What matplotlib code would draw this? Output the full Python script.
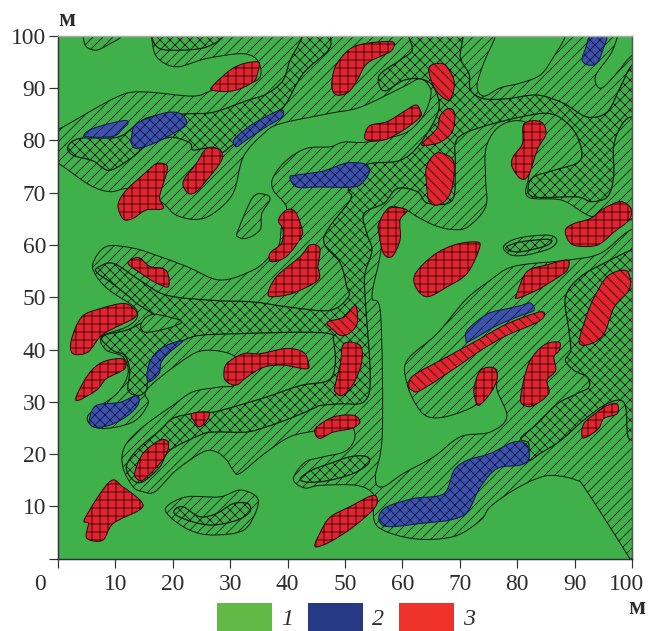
import matplotlib
matplotlib.use('Agg')
import matplotlib.pyplot as plt
import numpy as np
from matplotlib.path import Path
from matplotlib.patches import PathPatch, Patch
from matplotlib.transforms import ScaledTranslation

W, H, DPI = 648, 631, 240
px = 72 / DPI
plt.rcParams['hatch.linewidth'] = 0.85 * px
plt.rcParams['font.family'] = ['Liberation Serif', 'DejaVu Serif']

GREEN = '#40B04A'; BLUE = '#3D52A8'; RED = '#E3242F'
LEG_COL = ['#62B946', '#263A84', '#EE3229']
LEG_LAB = ['1', '2', '3']
TICKS = [0, 10, 20, 30, 40, 50, 60, 70, 80, 90, 100]

hatched_master = [(0,82.1),(10.2,88.3),(14.8,89.3),(23.5,88.5),(27,89.6),(34.6,91.5),(34.9,95),(32.3,96.6),(25.9,95.7),(20.6,94.1),(17.2,96),(16.3,99.8),(16,103),(60,103),(105,105),(105,80),(105,20),(105,-6),(101,-3),(99.6,0),(92,13.1),(90.3,15),(86.3,15.9),(83.4,15.3),(79.4,13.1),(75.3,9.9),(73.6,7.3),(68.9,4.2),(61.9,3.8),(55.8,6),(54.9,9.9),(54.9,12.4),(52,14),(45.7,14),(43,13.5),(41,15.2),(43,18.4),(46,19.4),(50,20.5),(51.7,23),(51,25.5),(48,25.5),(45,24.5),(40.4,23.3),(36,20.1),(31.7,16.3),(30.5,16.9),(29.4,18.8),(27.6,20.4),(25.3,20.4),(20.6,16.9),(16.9,12.8),(14.8,12.8),(13.1,13.7),(11.3,17.5),(11.6,21.4),(14.8,25.2),(20,29.3),(23.5,31.9),(28,32.8),(31,33.5),(31,38.5),(25.3,39.8),(20.6,37),(15.4,32.2),(15.7,29.6),(13,26.1),(7.2,24.9),(5.2,27.3),(10.2,31.5),(12.2,35.4),(11.3,38.6),(8.4,39.9),(7.6,42.4),(11.9,44.3),(13.7,45.9),(13.7,47.5),(12.5,48.8),(9,51.3),(6.7,54),(6.1,56.5),(8.4,59.7),(13.1,59.4),(17.7,57.8),(22.4,55.9),(28.2,53.3),(34,55.2),(36.9,57.8),(38.5,60),(39,64),(39.8,67.3),(37.5,70.5),(37.5,73),(39.8,76.2),(43.3,78.5),(47.4,78.8),(49.8,79.7),(53.8,79.7),(60.2,81.3),(63.1,83.9),(64.6,87.1),(64.9,89.9),(63.1,91.8),(60.2,90.3),(52.7,86.4),(47.4,85.2),(38.7,83.2),(35.8,81.3),(32.3,76.9),(30.5,69.9),(27,66),(24.1,64.9),(20.6,65.7),(18.3,68),(15,70),(11.9,70.8),(9,70.2),(5.5,71.5),(0,75.7),(-5,79),(-5,80)]

green_pockets = [
 [(76.2,103),(76.2,100),(74.2,94.9),(73,90.4),(74.2,88.5),(77.1,90.1),(80.6,91),(84.1,92.6),(86.4,96.1),(88.4,100),(88.4,103)],
 [(98,103),(97.5,100),(96.3,96.6),(93.7,92.5),(94,90.3),(95.1,90.3),(97.5,93.1),(100,96.3),(104,99),(104,103)],
 [(74.5,78.2),(74.5,72.4),(74.5,67.3),(71.3,63.4),(68.4,63),(65.5,63.8),(62.6,65.4),(60.5,66.7),(57.3,66.7),(56.1,57.8),(54.7,50.1),(56.2,46.8),(56.5,23.9),(55.3,15.6),(56.5,13.7),(60.2,16.3),(65.5,19.5),(70.1,23.3),(75.3,24.2),(78.2,27.1),(76.5,32.2),(76.2,36.3),(72.7,32.8),(73,29.6),(67.8,27.2),(64.3,27.2),(62.3,29.6),(60.8,33.5),(60.8,37.9),(66,43),(71,49.5),(75,53),(79.4,55.9),(88.7,57.1),(94.5,58.4),(99.8,62.9),(104,63),(104,65),(99.8,64.8),(93.5,65.4),(91.8,66),(87.7,68.6),(81.9,69.2),(82,73),(83,78),(82,83),(79,83.7),(76.2,82)],
]

hatched_islands = [
 [(4.4,103),(4.4,100),(4.9,98),(6.7,97.3),(9,98.5),(11,100),(11,103)],
 [(18.9,9.9),(22.4,11.8),(28.2,11.8),(31.7,13.1),(34.6,11.8),(34.6,9.3),(32.3,5.4),(27,4.5),(23,5.4),(19.5,8)],
 [(31.4,62.9),(34,69.2),(36.3,69.6),(36.9,68.6),(35.5,66),(35.2,62.9),(32.9,61.3),(31.3,61.6)],
 [(77.6,59.7),(80.1,61.3),(85.2,61.9),(86.9,61),(85.8,59.4),(81.7,58.1),(78.9,58.1)],
]

cross_zones = [
 [(1.7,78.8),(3.8,80.4),(10.2,80.6),(13.1,82.5),(16,84.5),(22.4,85.1),(27,85.4),(32.8,87.6),(36.3,88.9),(39.2,91.5),(40.4,95.3),(42.4,99.5),(42.6,103),(47.5,103),(47.5,100),(47.1,97.3),(42.7,92.8),(39.5,86.7),(36.3,83.2),(30.5,79.2),(28.5,77.7),(25.9,78.5),(23.5,78.2),(22.9,79.6),(19.5,80.6),(15.4,79),(13.1,76.9),(9,74.3),(6.1,76.1),(2.6,77.2)],
 [(16.3,103),(16.3,100),(17.7,97.6),(21.8,97.3),(25.9,97.9),(28.8,100),(28.8,103)],
 [(61.1,103),(70.1,103),(70.1,96),(71.6,92.8),(71.9,89.6),(74.2,88),(78.3,88),(83.5,88.7),(88.1,87.1),(92.2,84.5),(95.7,85.5),(98,90.3),(100,94.4),(103,96),(103,84),(99.8,84.5),(98,82.6),(96.8,78.8),(96.8,73.1),(95.7,69.2),(92.8,68.3),(90.5,69.2),(83,69.2),(81.9,71.1),(83,73.1),(86.4,74.3),(91,76.2),(90.5,80.7),(88.1,83.9),(85.2,85.2),(80.6,84.5),(74.8,82.9),(70.7,81.3),(69.2,79.4),(69.2,75.6),(68.7,68.6),(64.4,68),(62.6,70.2),(59.1,70.8),(56.8,68),(53.3,66),(53.8,62.2),(54.7,59),(53.5,54.6),(53.5,50.1),(54.4,34.7),(53.3,30),(49.2,29.6),(45.7,29.3),(44.5,28.7),(40.4,26.8),(36.3,25.2),(32.8,24.2),(27,24.2),(24.7,23.6),(19.5,20.7),(17.7,17.5),(14.8,14.7),(13.1,15),(11.9,17.5),(13.7,20.7),(17.7,24.5),(20,26.8),(23.3,27.7),(27,28),(30.5,29),(36.3,30.9),(42.2,33.1),(47.1,34.1),(48.3,37.3),(48,41.7),(47.4,43),(42.2,43.3),(30.5,43),(24.7,42.7),(21.8,41.7),(17.7,39.2),(15.7,34.1),(15.4,32.2),(14,31.2),(12.2,32.2),(12.5,36),(11.6,38.9),(9.6,39.8),(7.6,42.4),(11.9,43.7),(14.2,44.9),(16.6,46.5),(13.7,48.8),(12.5,50),(9,53),(7,54.5),(6.7,55.5),(9.6,56.5),(14.2,53.3),(18.9,50.4),(27,49.4),(34,49.1),(40.4,48.1),(47.4,47.5),(50.6,50.1),(50.3,52),(49.2,56.5),(46.3,61.3),(50.9,68.6),(50.6,70.5),(51,74),(54.4,75.6),(59.6,76.2),(63.1,79.4),(66.3,85.8),(65.4,90.3),(63.1,91.8),(60.2,91.5),(57,89.5),(55.9,90.9),(56.2,92.8),(59.6,95.4),(61.7,97.3),(61.1,100)],
 [(88.4,50),(89,43.7),(89.3,39.8),(88.4,37.9),(89.9,36),(92.2,34.7),(92.5,32.8),(90.5,31.6),(87,29.6),(83.5,25.8),(80.6,23),(82,22),(82,18.8),(84,20.1),(87.6,22.6),(91.6,26.5),(95.1,29.3),(97.7,30.3),(98.9,29),(99.2,23.9),(100,22.6),(103,22),(103,60),(99.8,59),(95.1,56.5),(91,53.9)],
 [(20.3,9.3),(21.8,9.9),(24.7,8),(27.6,8.6),(30.5,10.5),(33.1,10.5),(33.4,8.9),(31.1,7.3),(27,6.4),(23.5,7),(20.6,8.3)],
 [(78.2,59.7),(80.6,60.6),(85.2,61.1),(86,60.6),(84.6,59.7),(80.6,58.7),(78.4,59)],
 [(42.2,15.3),(44.2,16.9),(47.4,18.2),(51,19.5),(53.8,19.5),(54.1,18.2),(51.5,16.3),(47,14.9),(43.5,14.6)],
]

lens = [(14.5,44.9),(15.4,46.2),(17.2,46.7),(21.5,45.4),(18.9,44),(15.4,43.3),(14.5,44)]

blue_slash = [
 [(4.7,80.8),(6.1,82.3),(11.3,83.8),(12.2,83.3),(11.3,82.3),(9.6,80.8)],
 [(71.1,41.7),(71.3,43.7),(74.8,46.8),(78.2,47.8),(80.6,48.4),(82.3,48.9),(82.9,47.5),(80.6,46.5),(76.5,44.6),(73,42.4),(71.3,41.4)],
]
blue_cross = [
 [(12.8,80.7),(13.7,83.2),(18.3,85.2),(21.2,85.2),(22.4,83.2),(20,81.3),(16.6,79.4),(13.7,78.5),(12.8,79.4)],
 [(30.5,79.7),(31.1,80.7),(34,83.2),(38.7,85.8),(39,84.5),(35.8,82.3),(32.3,79.7),(31.1,78.8)],
 [(40.4,73),(41.6,73.4),(45.6,74),(47.4,74.6),(50.3,75.7),(53.2,75.6),(54.3,74.3),(53.2,72.1),(51.5,71.1),(45.7,71.1),(41.6,71.1)],
 [(92.8,100),(95.5,100),(95.1,97.9),(94,95),(92.5,94.4),(91.3,95.4),(91.9,97.6)],
 [(5.5,26.8),(6.7,29.3),(10.8,29.9),(13.7,31.2),(14,29.6),(12.2,27.4),(9,25.5),(6.1,25.2)],
 [(15.7,33.8),(15.7,36.7),(16.9,39.2),(18.9,40.8),(21.8,41.7),(19.5,39.5),(18,37.6),(17.6,35.4)],
 [(55.9,8),(57.3,9.9),(62,11.5),(67.2,12.4),(69,16.9),(71.3,18.8),(75.3,20.1),(79.4,22.3),(81.7,21.7),(82,19.1),(80.6,17.9),(76.5,17.2),(73.6,13.7),(71.3,8.9),(68.4,7.4),(63.1,6.7),(58.5,6.1),(56.5,6.4)],
]

red_grid = [
 [(27,89.6),(27,90.5),(29.9,93.4),(32.3,94.7),(34.9,95),(34.9,93.4),(34,91.2),(30.5,89.5)],
 [(47.7,90.3),(48.3,94.1),(50.6,97.3),(53.3,98.5),(58.2,98.9),(58.2,97.3),(56.8,96.4),(53.8,94.7),(52.1,91.5),(50.6,89.3),(48.6,88.7)],
 [(53.5,81.3),(54.4,82.9),(57.3,83.6),(60.2,85.5),(62.3,86.8),(63.1,85.8),(63.1,84.5),(60.2,82),(56.8,80.1),(53.8,80.1)],
 [(80.9,79.4),(81.2,83.2),(84.1,83.6),(85,81.3),(83.5,78.2),(82,73.4),(80.6,72.7),(79.1,75),(79.3,76.9)],
 [(88.4,62.9),(89.9,64.1),(92.8,65.1),(95.1,67),(98,68.3),(99.8,67),(99.5,64.8),(96.9,62.5),(94,60),(90.5,59.8),(89,60.7)],
 [(62.3,54.6),(65.5,58.1),(69,60),(72.5,60.6),(73.5,59.7),(71.3,54.6),(67.8,52),(64.3,50.1),(62.3,52)],
 [(55.9,64.1),(57.6,67),(60.8,66.7),(59.6,64.8),(59.6,61),(58.2,57.8),(56.7,58.4),(55.9,62.2)],
 [(80,50.8),(81.7,54.9),(85.2,56.2),(88.7,57.1),(88.7,55.2),(86.4,53.3),(83.5,51.4),(80,49.8)],
 [(72.5,32.8),(73.6,36),(75.9,36.5),(76.5,34.4),(75.3,31.6),(73.3,29.3),(72.6,30.9)],
 [(80.6,30.9),(82,37.3),(84.6,40.8),(87.3,41.4),(87.3,39.8),(86.4,38.6),(86.7,36),(85.2,34.1),(85.5,31.6),(82.9,29.3),(81.2,29.3)],
 [(91.3,23.3),(91.6,25.8),(93.9,28),(95.7,29.3),(97.4,29.6),(97.4,27.7),(95.1,26.8),(94.2,24.9),(92.2,23.3)],
 [(44.8,23.9),(45.1,25.2),(48,27.1),(51.5,27.4),(52.6,26.1),(51.2,24.9),(48,24.2),(45.7,23)],
 [(48.2,32.8),(49.2,37.3),(49.8,41.1),(52.6,40.8),(52.9,37.6),(51.5,33.5),(49.5,31.2),(48.3,31.9)],
 [(44.8,2.3),(45.7,5),(47.4,7.9),(51,10),(55,12.1),(55.3,9.9),(51.5,6.1),(47.4,3.2)],
 [(10.5,68),(11.9,70.5),(15.4,74),(17.2,75.6),(18.9,75.3),(18.9,73.7),(17.7,69.2),(18.3,67),(15.4,66.7),(13.1,65.1),(11.6,64.8),(10.8,66)],
 [(21.8,72.1),(24.1,75.6),(25.9,78.5),(28.2,78.2),(28.5,76.2),(25.9,72.4),(24.1,70.2),(22.7,69.9)],
 [(38.4,64.8),(39.8,66.7),(41.3,66.4),(42.4,63.5),(42.4,61.6),(39.8,57.8),(37.2,56.8),(36.9,58.4),(38.9,60.3),(39.2,62.9)],
 [(36.6,50.8),(38.1,54),(42.2,57.8),(43.9,60),(45.6,59.4),(45.3,55.9),(45.3,53.3),(41,50.8),(37.5,50.1)],
 [(12.2,56.5),(14,57.6),(16,55.9),(18.3,55.5),(19.2,54.3),(19.2,52),(17.2,52.7),(14.8,54.3)],
 [(2.3,41.7),(4.1,46.2),(7.3,47.8),(11.6,48.8),(13.7,47.2),(13.1,45.9),(9.6,44),(7.3,42.4),(5.2,39.5),(2.6,39.2)],
 [(3.1,30.3),(5.2,35.1),(7.8,37.6),(11.3,38.2),(11.6,36.3),(8.4,34.4),(6.7,32.2)],
 [(23.3,27.7),(26.2,28),(26,26.5),(24.7,25.2),(23.8,26.1)],
 [(13.4,16.6),(14.8,20.1),(17.7,22.6),(19.2,22.3),(18.9,20.1),(17.2,17.5),(14.8,15),(13.7,15.3)],
 [(28.9,35.1),(29.4,37.3),(32.3,39.2),(35.2,39.2),(39.8,40.2),(42.7,39.5),(43.6,37.6),(43.3,36.3),(39.2,37),(35.8,36.6),(32.9,34.7),(31.1,33.2),(29.4,33.8)],
 [(4.7,7.7),(9,14.7),(11.3,13.7),(14.5,10.9),(14.2,9.3),(9.6,6.7),(7.8,3.5),(5,3.9),(5.3,6.7)],
]
red_back = [
 [(64.6,93.8),(65.8,94.7),(67.5,94.4),(69,91.5),(68.7,88.7),(67.9,87.7),(66.3,89),(65.2,90.9)],
 [(63.4,79.4),(66,82.3),(66.6,84.8),(68,86.1),(69.1,85.2),(68.7,81.7),(66.6,79.7),(64.3,79.1)],
 [(64.2,75),(65.8,77.5),(67.8,77.2),(69,75.6),(68.7,71.1),(67.6,68.6),(65.8,67.6),(64.6,68.6),(64.2,71.8)],
 [(90.8,41.4),(92.2,46.8),(93.4,50),(95.7,54),(98.6,55.2),(99.6,54),(99.5,51.4),(96.9,48.1),(95.1,43),(92.8,41.1)],
 [(61.1,33.1),(62,35.1),(67.8,38.6),(73.6,42.1),(78.2,44.9),(84,47.2),(84.6,46.2),(82.9,44.9),(78.2,42.7),(73.6,39.8),(69,36.3),(63.2,32.2),(61.7,32.2)],
 [(46.9,45.2),(49.8,46.2),(51.8,48.4),(52.1,44.9),(50.6,43),(49.2,42.7),(48,43.7)],
]


def smooth(points):
    """Closed Catmull-Rom outline through the read-off points."""
    p = np.asarray(points, float)
    n = len(p)
    verts = [p[0]]
    codes = [Path.MOVETO]
    for i in range(n):
        p0, p1, p2, p3 = p[i - 1], p[i], p[(i + 1) % n], p[(i + 2) % n]
        verts += [p1 + (p2 - p0) / 6, p2 - (p3 - p1) / 6, p2]
        codes += [Path.CURVE4] * 3
    return Path(np.array(verts), codes)


fig = plt.figure(figsize=(W / DPI, H / DPI), dpi=DPI, facecolor='white')
ax = fig.add_axes([58 / W, 1 - 558.5 / H, (632 - 58) / W, (558.5 - 36) / H])
ax.set_xlim(0, 100); ax.set_ylim(0, 100)
ax.set_facecolor(GREEN)

LINE = '#0b1f10'


def draw(points, face, hatch=None, edge=LINE, lw=1.0):
    ax.add_patch(PathPatch(smooth(points), facecolor=face, edgecolor=edge,
                           hatch=hatch, linewidth=lw * px))

SINGLE = '/' * 8; CROSS = 'x' * 8; GRID = '+++++'; BACK = '\\' * 8
draw(hatched_master, GREEN, SINGLE)
for z in green_pockets:
    draw(z, GREEN)
for z in hatched_islands:
    draw(z, GREEN, SINGLE)
for z in cross_zones:
    draw(z, GREEN, CROSS, lw=1.2)
draw(lens, GREEN, SINGLE)
for z in blue_slash:
    draw(z, BLUE, SINGLE, edge='#101a50')
for z in blue_cross:
    draw(z, BLUE, CROSS, edge='#101a50')
for z in red_grid:
    draw(z, RED, GRID, edge='#30060c')
for z in red_back:
    draw(z, RED, BACK, edge='#30060c')

ax.set_xticks(TICKS); ax.set_yticks(TICKS)
ax.set_xticklabels([''] + [str(t) for t in TICKS[1:]])
ax.set_yticklabels([''] + [str(t) for t in TICKS[1:]])
FS = 23.5 * px
ax.tick_params(length=9 * px, width=1.2 * px, color='#333333', labelsize=FS,
               labelcolor='#2d2d2d')
ax.tick_params(axis='x', pad=7 * px)
ax.tick_params(axis='y', pad=3 * px)
last = ax.get_xticklabels()[-1]
last.set_transform(last.get_transform() + ScaledTranslation(-5 / DPI, 0, fig.dpi_scale_trans))
ax.text(-3.1, -3.0, '0', fontsize=FS, color='#2d2d2d', ha='center', va='top', clip_on=False)
for s, c, w in [('left', '#333333', 1.5), ('bottom', '#333333', 1.5),
                ('top', '#aaaaaa', 1.5), ('right', '#555555', 1.5)]:
    ax.spines[s].set_color(c); ax.spines[s].set_linewidth(w * px)

fig.text(67 / W, 1 - 20 / H, 'м', fontsize=25 * px, fontweight='bold', color='#2d2d2d', ha='center', va='center')
fig.text(637 / W, 1 - 608 / H, 'м', fontsize=25 * px, fontweight='bold', color='#2d2d2d', ha='center', va='center')

handles = [Patch(facecolor=c, edgecolor='none', label=l) for c, l in zip(LEG_COL, LEG_LAB)]
F = 24 * px
fig.legend(handles=handles, loc='lower left', bbox_to_anchor=(217 / W, 0), ncol=3, frameon=False,
           prop={'family': 'Liberation Serif', 'style': 'italic', 'size': F},
           handlelength=55 / 24, handleheight=34 / 24, handletextpad=9 / 24,
           columnspacing=15 / 24, borderpad=0, borderaxespad=0, labelcolor='#2d2d2d')

fig.savefig('out.png', dpi=DPI)
